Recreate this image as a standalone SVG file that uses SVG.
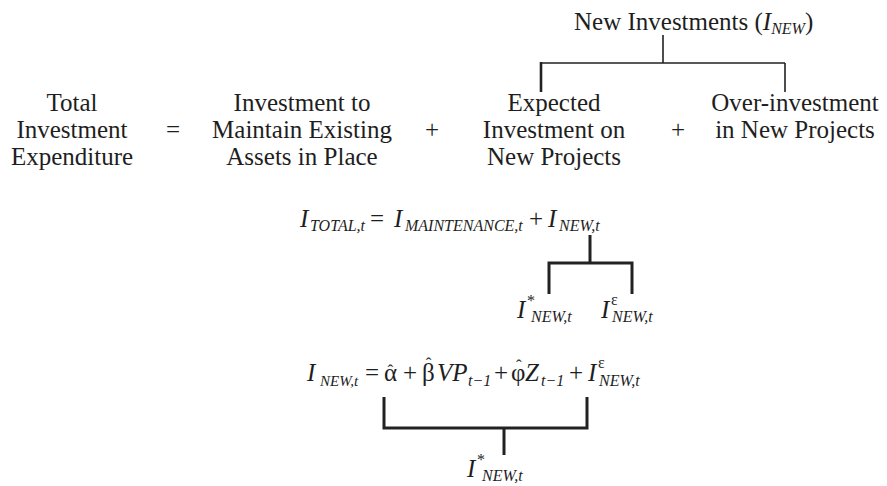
<svg xmlns="http://www.w3.org/2000/svg" width="887" height="486" viewBox="0 0 887 486">
<style>
.t{font-family:"Liberation Serif","Times New Roman",serif;font-size:25px;fill:#1e1e1e;text-anchor:middle}
.r{font-family:"Liberation Serif","Times New Roman",serif;font-size:25px;fill:#1e1e1e}
.i{font-family:"Liberation Serif","Times New Roman",serif;font-size:25px;font-style:italic;fill:#1e1e1e}
.s{font-family:"Liberation Serif","Times New Roman",serif;font-size:16px;font-style:italic;fill:#1e1e1e}
.h{font-family:"Liberation Serif","Times New Roman",serif;font-size:16px;fill:#1e1e1e}
.hat{font-size:17px}
.thin{stroke:#222;stroke-width:1.6;fill:none}
.thick{stroke:#222;stroke-width:3;fill:none}
</style>
<rect width="887" height="486" fill="#fff"/>
<g id="new-investments">
<text class="r" x="574" y="30">New Investments (<tspan class="i">I</tspan><tspan class="s" dy="4">NEW</tspan><tspan dy="-4">)</tspan></text>
</g>
<g id="total">
<text class="t" x="72" y="111">Total</text>
<text class="t" x="72" y="138">Investment</text>
<text class="t" x="72" y="165">Expenditure</text>
</g>
<g id="equals"><text class="t" x="173" y="138">=</text></g>
<g id="maintain">
<text class="t" x="302" y="111">Investment to</text>
<text class="t" x="302" y="138">Maintain Existing</text>
<text class="t" x="302" y="165">Assets in Place</text>
</g>
<g id="plus1"><text class="t" x="432" y="138">+</text></g>
<g id="expected">
<text class="t" x="554" y="111">Expected</text>
<text class="t" x="554" y="138">Investment on</text>
<text class="t" x="554" y="165">New Projects</text>
</g>
<g id="plus2"><text class="t" x="678" y="138">+</text></g>
<g id="over">
<text class="t" x="795" y="111">Over-investment</text>
<text class="t" x="795" y="138">in New Projects</text>
</g>
<g id="eq-total">
<text class="i" x="300" y="227">I</text><text class="s" x="310" y="231">TOTAL,t</text>
<text class="r" x="370" y="227">=</text>
<text class="i" x="394" y="227">I</text><text class="s" x="405" y="231">MAINTENANCE,t</text>
<text class="r" x="529" y="227">+</text>
<text class="i" x="548" y="227">I</text><text class="s" x="559" y="231">NEW,t</text>
</g>
<g id="i-star">
<text class="i" x="517" y="318">I</text><text class="h" x="527" y="306">*</text><text class="s" x="531" y="322">NEW,t</text>
</g>
<g id="i-eps">
<text class="i" x="601" y="318">I</text><text class="h" x="611" y="305">ε</text><text class="s" x="612" y="322">NEW,t</text>
</g>
<g id="eq-new">
<text class="i" x="307" y="381">I</text><text class="s" x="320" y="386" style="font-size:15px">NEW,t</text>
<text class="r" x="365" y="381">=</text>
<text class="r" x="384" y="381">α<tspan class="hat" dx="-9.5" dy="-5">ˆ</tspan></text>
<text class="r" x="403" y="381">+</text>
<text class="r" x="422" y="381">β<tspan class="hat" dx="-9" dy="-12">ˆ</tspan></text><text class="i" x="437" y="381">VP</text><text class="s" x="468" y="386">t−1</text>
<text class="r" x="494" y="381">+</text>
<text class="r" x="511" y="381">φ<tspan class="hat" dx="-9.5" dy="-10">ˆ</tspan></text><text class="i" x="525" y="381">Z</text><text class="s" x="541" y="386">t−1</text>
<text class="r" x="569" y="381">+</text>
<text class="i" x="588" y="381">I</text><text class="h" x="598" y="368">ε</text><text class="s" x="599" y="386">NEW,t</text>
</g>
<g id="i-star-2">
<text class="i" x="467" y="477">I</text><text class="h" x="477" y="465">*</text><text class="s" x="482" y="481">NEW,t</text>
</g>
<g id="connectors">
<path class="thin" d="M663 35V63M541 63H785M785 63V92"/>
<path class="thick" d="M541 62V92" style="stroke-width:2.6"/>
<path class="thick" d="M590 235V263M549 294V263H632V294"/>
<path class="thick" d="M384 397V428H587V397M504 428V455"/>
</g>
</svg>
